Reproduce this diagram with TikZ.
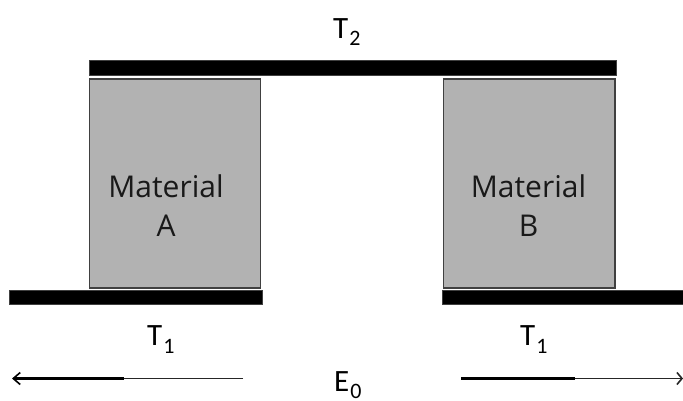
\documentclass[tikz,border=0pt]{standalone}
\usepackage{fontspec}
\setmainfont{Open Sans}
\newfontfamily\labelfont{Carlito}
\usetikzlibrary{arrows.meta}
\definecolor{matgray}{gray}{0.70}
\definecolor{edgegray}{gray}{0.25}
\newcommand{\lowsub}[1]{\kern1pt\raisebox{-7.5pt}{\fontsize{22}{22}\selectfont #1}}
\tikzset{
  x=1pt,y=-1pt,
  plate/.style={fill=black,draw=black!75,line width=0.6pt},
  matbox/.style={fill=matgray,draw=edgegray,line width=1.1pt},
  mattext/.style={font=\fontsize{30}{39}\selectfont,align=center,text=black!90,inner sep=0pt},
  templabel/.style={font=\labelfont\fontsize{31}{31}\selectfont,inner sep=0pt,anchor=base west,text=black},
  fieldthick/.style={line width=2.4pt,draw=black},
  fieldthin/.style={line width=1.5pt,draw=black!85},
  tiptop/.style={-{Straight Barb[length=7pt,width=12pt,line width=1.6pt]}}
}
\begin{document}
\begin{tikzpicture}
\useasboundingbox (0,0) rectangle (683,400);
\fill[white] (0,0) rectangle (683,400);
\draw[plate] (89,60) rectangle (616,75);
\draw[plate] (9.5,290) rectangle (262,304.5);
\draw[plate] (442,290) rectangle (683,304.5);
\draw[matbox] (89.5,79) rectangle (260.5,288);
\draw[matbox] (443.5,79) rectangle (615,288);
\node[mattext] (ma) at (166,206) {Material\\A};
\node[mattext] (mb) at (528.5,206) {Material\\B};
\node[templabel] (t2) at (333,38) {T\lowsub{2}};
\node[templabel] (t1a) at (147,345.5) {T\lowsub{1}};
\node[templabel] (t1b) at (520,345.5) {T\lowsub{1}};
\node[templabel] (e0) at (334,391) {E\lowsub{0}};
\coordinate (la) at (243,378.5);
\coordinate (lb) at (124,378.5);
\coordinate (lc) at (12,378.5);
\coordinate (ra) at (461,378.5);
\coordinate (rb) at (575,378.5);
\coordinate (rc) at (683,378.5);
\draw[fieldthin] (la) -- (lb);
\draw[fieldthick,tiptop] (lb) -- (lc);
\draw[fieldthick] (ra) -- (rb);
\draw[fieldthin,-{Straight Barb[length=5pt,width=12pt,line width=1.6pt]}] (rb) -- (rc);
\end{tikzpicture}
\end{document}
